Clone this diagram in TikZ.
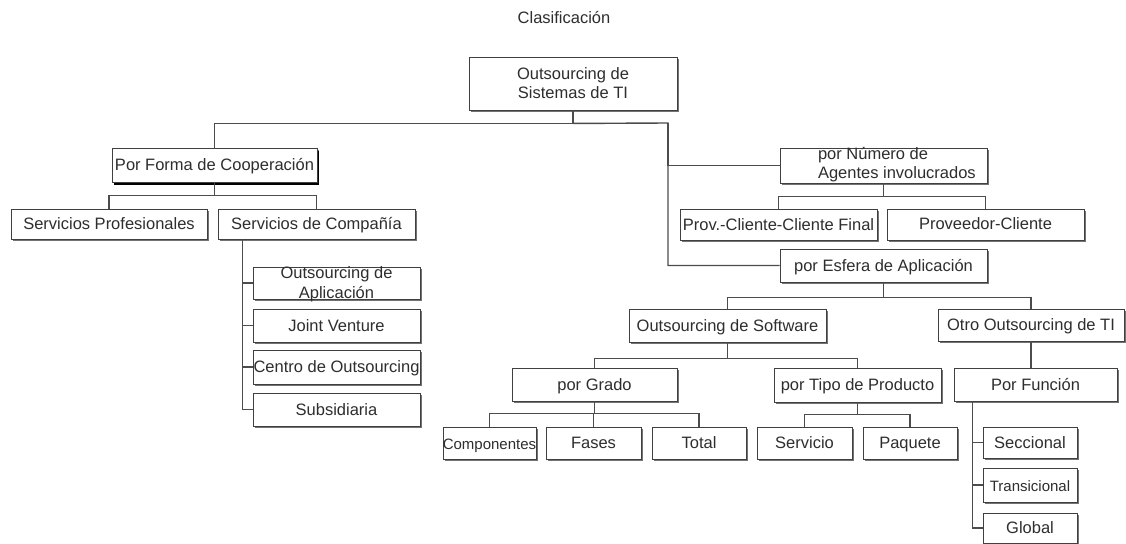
\documentclass[tikz,border=0pt]{standalone}
\usepackage{fontspec}
\setmainfont{Liberation Sans}
\usetikzlibrary{shadows}
\newcommand\bt[1]{\raisebox{-6pt}[0pt][0pt]{\makebox[0pt]{\parbox[c][0pt][c]{300pt}{\centering\strut #1\strut}}}}
\begin{document}
\begin{tikzpicture}[x=1pt,y=-1pt,
  every node/.style={font=\fontsize{16.5}{19.5}\selectfont, text=black!82},
  bx/.style={draw=black!75, line width=0.9pt, fill=white, inner sep=0pt, rectangle,
    drop shadow={shadow xshift=1.6pt, shadow yshift=-2.2pt, fill=black!55, opacity=1}},
  bxk/.style={bx, drop shadow={shadow xshift=1.6pt, shadow yshift=-2.6pt, fill=black, opacity=1}},
  conn/.style={draw=black!70, line width=1.4pt},
]
\useasboundingbox (0,0) rectangle (1126,543);
\fill[white] (0,0) rectangle (1126,543);

\node (title) at (564,18) {Clasificación};

\node[bx, minimum width=208pt, minimum height=53pt] (root) at (573,83.5) {\bt{Outsourcing de\\Sistemas de TI}};
\node[bxk, minimum width=205pt, minimum height=34pt] (forma) at (214.5,165) {\bt{Por Forma de Cooperación}};
\node[bx, minimum width=196pt, minimum height=30pt] (profesionales) at (109,224) {\bt{Servicios Profesionales}};
\node[bx, minimum width=197pt, minimum height=30pt] (compania) at (316.5,224) {\bt{Servicios de Compañía}};
\node[bx, minimum width=167pt, minimum height=32pt] (aplic) at (336.5,283) {\bt{Outsourcing de\\Aplicación}};
\node[bx, minimum width=167pt, minimum height=33pt] (joint) at (336.5,325.5) {\bt{Joint Venture}};
\node[bx, minimum width=167pt, minimum height=34pt] (centro) at (336.5,367) {\bt{Centro de Outsourcing}};
\node[bx, minimum width=167pt, minimum height=33pt] (subsidiaria) at (336.5,409.5) {\bt{Subsidiaria}};

\node[bx, minimum width=207pt, minimum height=35pt] (numero) at (883.5,165.5)
  {\raisebox{-4pt}[0pt][0pt]{\makebox[0pt][l]{\hspace{-65.5pt}\parbox[c][0pt][c]{200pt}{\raggedright\strut por Número de\\Agentes involucrados\strut}}}};
\node[bx, minimum width=197pt, minimum height=31pt] (provcf) at (778.5,224.5) {\bt{Prov.-Cliente-Cliente Final}};
\node[bx, minimum width=197pt, minimum height=31pt] (provc) at (985.5,224.5) {\raisebox{2pt}{\bt{Proveedor-Cliente}}};
\node[bx, minimum width=207pt, minimum height=33pt] (esfera) at (883.5,265.5) {\bt{por Esfera de Aplicación}};
\node[bx, minimum width=197pt, minimum height=33pt] (software) at (727.5,325.5) {\bt{Outsourcing de Software}};
\node[bx, minimum width=186pt, minimum height=32pt] (otro) at (1031,325) {\bt{Otro Outsourcing de TI}};
\node[bx, minimum width=165pt, minimum height=33pt] (grado) at (594.5,384.5) {\bt{por Grado}};
\node[bx, minimum width=167pt, minimum height=34pt] (tipo) at (857.5,385) {\bt{por Tipo de Producto}};
\node[bx, minimum width=163pt, minimum height=33pt] (funcion) at (1035.5,384.5) {\bt{Por Función}};
\node[bx, minimum width=93pt, minimum height=32pt] (componentes) at (489.5,443) {\fontsize{15}{18}\selectfont\bt{Componentes}};
\node[bx, minimum width=95pt, minimum height=32pt] (fases) at (593.5,443) {\bt{Fases}};
\node[bx, minimum width=94pt, minimum height=32pt] (total) at (699,443) {\bt{Total}};
\node[bx, minimum width=95pt, minimum height=32pt] (servicio) at (804.5,443) {\bt{Servicio}};
\node[bx, minimum width=94pt, minimum height=32pt] (paquete) at (910,443) {\bt{Paquete}};
\node[bx, minimum width=94pt, minimum height=31pt] (seccional) at (1030,442.5) {\bt{Seccional}};
\node[bx, minimum width=94pt, minimum height=34pt] (transicional) at (1030,485) {\fontsize{15}{18}\selectfont\bt{Transicional}};
\node[bx, minimum width=94pt, minimum height=30pt] (global) at (1030,528) {\bt{Global}};

% connectors
\draw[conn] (root.south) -- ++(0,13) coordinate (j0);
\draw[conn] (j0) -| (forma.north);
\coordinate (rb) at (668,123);
\draw[conn] (j0) -- (rb) |- (esfera.west);
\draw[conn] (rb) |- (numero.west);

\draw[conn] (forma.south) -- ++(0,13) coordinate (j1);
\draw[conn] (j1) -| (profesionales.north);
\draw[conn] (j1) -| (compania.north);
\coordinate (cv) at ([xshift=25pt]compania.south west);
\draw[conn] (cv) |- (aplic.west);
\draw[conn] (cv) |- (joint.west);
\draw[conn] (cv) |- (centro.west);
\draw[conn] (cv) |- (subsidiaria.west);

\draw[conn] (numero.south) -- ++(0,13) coordinate (j2);
\draw[conn] (j2) -| (provcf.north);
\draw[conn] (j2) -| (provc.north);

\draw[conn] (esfera.south) -- ++(0,15) coordinate (j3);
\draw[conn] (j3) -| (software.north);
\draw[conn] (j3) -| (otro.north);

\draw[conn] (software.south) -- ++(0,16) coordinate (j4);
\draw[conn] (j4) -| (grado.north);
\draw[conn] (j4) -| (tipo.north);

\draw[conn] (otro.south) -- (otro.south |- funcion.north);

\draw[conn] (grado.south) -- ++(0,12) coordinate (j5);
\draw[conn] (j5) -| (componentes.north);
\draw[conn] (j5) -| (fases.north);
\draw[conn] (j5) -| (total.north);

\draw[conn] (tipo.south) -- ++(0,12) coordinate (j6);
\draw[conn] (j6) -| (servicio.north);
\draw[conn] (j6) -| (paquete.north);

\coordinate (fv) at ([xshift=19pt]funcion.south west);
\draw[conn] (fv) |- (seccional.west);
\draw[conn] (fv) |- (transicional.west);
\draw[conn] (fv) |- (global.west);
\end{tikzpicture}
\end{document}
